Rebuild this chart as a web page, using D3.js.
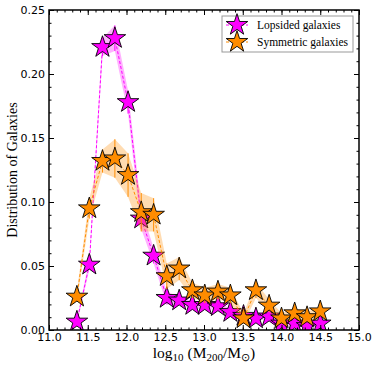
<!DOCTYPE html>
<html>
<head>
<meta charset="utf-8">
<script src="https://cdn.jsdelivr.net/npm/d3@7"></script>
<style>
  body { margin: 0; background: #fff; }
  .tick text { font-family: "DejaVu Sans", sans-serif; font-size: 11px; fill: #000; }
  .axis path, .axis line { stroke: #000; }
</style>
</head>
<body>
<script>
const massBins = [11.36, 11.52, 11.69, 11.85, 12.02, 12.19, 12.35, 12.52, 12.68, 12.85,
                  13.01, 13.18, 13.34, 13.51, 13.67, 13.84, 14.0, 14.17, 14.33, 14.5]
const lopsided = [0.0065, 0.051, 0.221, 0.228, 0.178, 0.087, 0.058, 0.025, 0.023, 0.0195,
                  0.0195, 0.0185, 0.014, 0.011, 0.009, 0.0105, 0.005, 0.005, 0.003, 0.005]
const lopsidedErr = [0.002, 0.004, 0.007, 0.010, 0.009, 0.008, 0.006, 0.005, 0.003, 0.003,
                     0.003, 0.003, 0.003, 0.002, 0.002, 0.002, 0.002, 0.002, 0.002, 0.002]
const symmetric = [0.026, 0.095, 0.132, 0.134, 0.121, 0.092, 0.090, 0.042, 0.048, 0.031,
                   0.027, 0.030, 0.027, 0.009, 0.031, 0.019, 0.009, 0.013, 0.010, 0.0145]
const symmetricErr = [0.004, 0.008, 0.009, 0.015, 0.017, 0.015, 0.013, 0.010, 0.009, 0.006,
                      0.006, 0.006, 0.006, 0.004, 0.006, 0.005, 0.004, 0.004, 0.004, 0.004]
const xTicks = [11.0, 11.5, 12.0, 12.5, 13.0, 13.5, 14.0, 14.5, 15.0]
const yTicks = [0.00, 0.05, 0.10, 0.15, 0.20, 0.25]
const seriesNames = ["Lopsided galaxies", "Symmetric galaxies"]
const seriesColors = ["#ff00ff", "#ff8c00"]

const W = 374, H = 366
const margin = { top: 10, right: 15, bottom: 36, left: 49 }

const svg = d3.select("body").append("svg")
    .attr("width", W).attr("height", H)

const x = d3.scaleLinear().domain([11, 15]).range([margin.left, W - margin.right])
const y = d3.scaleLinear().domain([0, 0.25]).range([H - margin.bottom, margin.top])

svg.append("clipPath").attr("id", "clip").append("rect")
    .attr("x", margin.left).attr("y", margin.top)
    .attr("width", W - margin.left - margin.right)
    .attr("height", H - margin.top - margin.bottom)

const star = d3.symbol().type(d3.symbolStar).size(145)

const plot = svg.append("g").attr("clip-path", "url(#clip)")

function drawSeries(vals, errs, color) {
    const data = massBins.map((m, i) => ({ m, v: vals[i], e: errs[i] }))
    const area = d3.area()
        .x(d => x(d.m))
        .y0(d => y(Math.max(0, d.v - d.e)))
        .y1(d => y(d.v + d.e))
    plot.append("path").datum(data)
        .attr("d", area)
        .attr("fill", color).attr("fill-opacity", 0.3)
    // error bars
    plot.selectAll(null).data(data).enter().append("line")
        .attr("x1", d => x(d.m)).attr("x2", d => x(d.m))
        .attr("y1", d => y(d.v - d.e)).attr("y2", d => y(d.v + d.e))
        .attr("stroke", color).attr("stroke-width", 1)
    const line = d3.line().x(d => x(d.m)).y(d => y(d.v))
    plot.append("path").datum(data)
        .attr("d", line)
        .attr("fill", "none").attr("stroke", color)
        .attr("stroke-width", 1).attr("stroke-dasharray", "3,2")
    plot.selectAll(null).data(data).enter().append("path")
        .attr("d", star)
        .attr("transform", d => `translate(${x(d.m)},${y(d.v)})`)
        .attr("fill", color).attr("stroke", "#000").attr("stroke-width", 0.9)
}

drawSeries(lopsided, lopsidedErr, seriesColors[0])
drawSeries(symmetric, symmetricErr, seriesColors[1])

// axes, ticks pointing inward on all four sides
const xMinor = d3.range(110, 151).map(d => d / 10)
const yMinor = d3.range(0, 26).map(d => d / 100)
const fmtX = d3.format(".1f"), fmtY = d3.format(".2f")

function addAxis(axisFn, scale, ticks, size, transform, labels, fmt, pad) {
    const a = axisFn(scale).tickValues(ticks).tickSizeInner(-size).tickSizeOuter(0)
        .tickPadding(pad).tickFormat(labels ? fmt : "")
    const g = svg.append("g").attr("class", "axis").attr("transform", transform).call(a)
    g.select(".domain").remove()
    g.selectAll(".tick line").attr("stroke-width", 1)
    return g
}

const atBottom = `translate(0,${H - margin.bottom})`, atTop = `translate(0,${margin.top})`
const atLeft = `translate(${margin.left},0)`, atRight = `translate(${W - margin.right},0)`

addAxis(d3.axisBottom, x, xMinor, 2.5, atBottom, false, fmtX, 3)
addAxis(d3.axisBottom, x, xTicks, 5, atBottom, true, fmtX, 3)
addAxis(d3.axisTop, x, xMinor, 2.5, atTop, false, fmtX, 3)
addAxis(d3.axisTop, x, xTicks, 5, atTop, false, fmtX, 3)
addAxis(d3.axisLeft, y, yMinor, 2.5, atLeft, false, fmtY, 4)
addAxis(d3.axisLeft, y, yTicks, 5, atLeft, true, fmtY, 4)
addAxis(d3.axisRight, y, yMinor, 2.5, atRight, false, fmtY, 4)
addAxis(d3.axisRight, y, yTicks, 5, atRight, false, fmtY, 4)

svg.append("rect")
    .attr("x", margin.left).attr("y", margin.top)
    .attr("width", W - margin.left - margin.right)
    .attr("height", H - margin.top - margin.bottom)
    .attr("fill", "none").attr("stroke", "#000").attr("stroke-width", 1.5)

// axis labels
svg.append("text")
    .attr("transform", `translate(17,${(margin.top + H - margin.bottom) / 2}) rotate(-90)`)
    .attr("text-anchor", "middle")
    .style("font-family", "'Liberation Serif', serif").style("font-size", "14px")
    .text("Distribution of Galaxies")

const xl = svg.append("text")
    .attr("x", 204).attr("y", 358)
    .attr("text-anchor", "middle")
    .style("font-family", "'Liberation Serif', serif").style("font-size", "15.5px")
xl.append("tspan").text("log")
xl.append("tspan").attr("dy", 3).style("font-size", "11px").text("10")
xl.append("tspan").attr("dy", -3).text(" (M")
xl.append("tspan").attr("dy", 3).style("font-size", "11px").text("200")
xl.append("tspan").attr("dy", -3).text("/M")
xl.append("tspan").attr("dy", 3).style("font-size", "11px").text("⊙")
xl.append("tspan").attr("dy", -3).text(")")

// legend
const lg = svg.append("g").attr("transform", "translate(222,16)")
lg.append("rect").attr("width", 131).attr("height", 36)
    .attr("fill", "#fff").attr("stroke", "#999").attr("stroke-width", 1)
seriesNames.forEach((name, i) => {
    const cy = 9 + i * 17
    lg.append("line").attr("x1", 4).attr("x2", 26).attr("y1", cy).attr("y2", cy)
        .attr("stroke", seriesColors[i]).attr("stroke-dasharray", "3,2")
    lg.append("path").attr("d", star).attr("transform", `translate(15,${cy})`)
        .attr("fill", seriesColors[i]).attr("stroke", "#000").attr("stroke-width", 0.9)
    lg.append("text").attr("x", 35).attr("y", cy + 4)
        .style("font-family", "'Liberation Serif', serif").style("font-size", "11.5px")
        .text(name)
})
</script>
</body>
</html>
